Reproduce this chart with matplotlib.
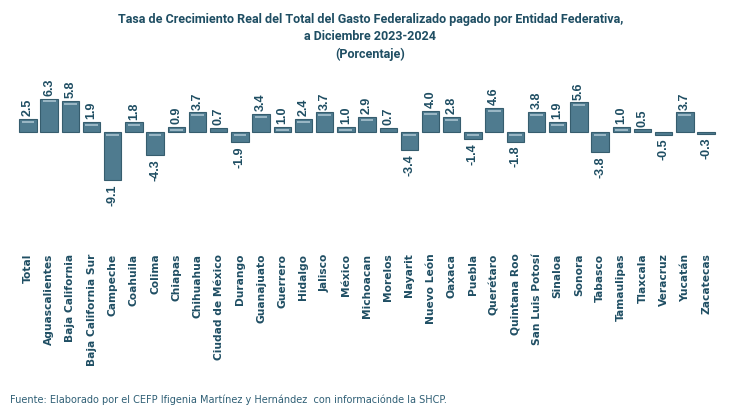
import numpy as np
import matplotlib
matplotlib.use("Agg")
import matplotlib.pyplot as plt

estados = ["Total", "Aguascalientes", "Baja California", "Baja California Sur",
           "Campeche", "Coahuila", "Colima", "Chiapas", "Chihuahua",
           "Ciudad de México", "Durango", "Guanajuato", "Guerrero", "Hidalgo",
           "Jalisco", "México", "Michoacan", "Morelos", "Nayarit", "Nuevo León",
           "Oaxaca", "Puebla", "Querétaro", "Quintana Roo", "San Luis Potosí",
           "Sinaloa", "Sonora", "Tabasco", "Tamaulipas", "Tlaxcala", "Veracruz",
           "Yucatán", "Zacatecas"]
tasa = [2.5, 6.3, 5.8, 1.9, -9.1, 1.8, -4.3, 0.9, 3.7, 0.7, -1.9, 3.4, 1.0,
        2.4, 3.7, 1.0, 2.9, 0.7, -3.4, 4.0, 2.8, -1.4, 4.6, -1.8, 3.8, 1.9,
        5.6, -3.8, 1.0, 0.5, -0.5, 3.7, -0.3]

titulo = ("Tasa de Crecimiento Real del Total del Gasto Federalizado pagado por Entidad Federativa,\n"
          "a Diciembre 2023-2024\n(Porcentaje)")
fuente = "Fuente: Elaborado por el CEFP Ifigenia Martínez y Hernández  con informaciónde la SHCP."

azul = "#1f4e63"
barra = "#4f7b8f"
borde = "#365d6e"

fig = plt.figure(figsize=(7.5, 4.18), dpi=100)
ax = fig.add_axes([0.0232, 0.4498, 0.9323, 0.3828])

x = np.arange(len(estados))
ax.bar(x, tasa, width=0.82, color=barra, edgecolor=borde, linewidth=0.8)

# brillo claro cerca del borde superior de cada barra
for i, v in enumerate(tasa):
    if abs(v) >= 0.9:
        y = max(v, 0) - 0.55
        ax.plot([i - 0.3, i + 0.3], [y, y], color="#a9c3cf", lw=1.2,
                solid_capstyle="butt")

for i, v in enumerate(tasa):
    if v >= 0:
        ax.annotate(f"{v:.1f}", (i, v), xytext=(0, 2), textcoords="offset points",
                    rotation=90, ha="center", va="bottom", fontsize=9,
                    fontweight="bold", color=azul, family="Liberation Sans")
    else:
        ax.annotate(f"{v:.1f}", (i, v), xytext=(0, -3), textcoords="offset points",
                    rotation=90, ha="center", va="top", fontsize=9,
                    fontweight="bold", color=azul, family="Liberation Sans")

ax.set_xlim(-0.5, len(estados) - 0.5)
ax.set_ylim(-18.5, 11.7)
ax.set_xticks(x)
ax.set_xticklabels(estados, rotation=90, fontsize=7.7, fontweight="bold",
                   color=azul, va="top")
ax.tick_params(axis="x", length=0, pad=17)
ax.set_yticks([])
for s in ax.spines.values():
    s.set_visible(False)

fig.text(0.494, 0.97, titulo, ha="center", va="top", fontsize=9,
         fontweight="bold", color=azul, linespacing=1.45, family="Roboto")
fig.text(0.013, 0.043, fuente, ha="left", va="center", fontsize=7,
         color="#2f5f75")

fig.savefig("out.png", dpi=100)
